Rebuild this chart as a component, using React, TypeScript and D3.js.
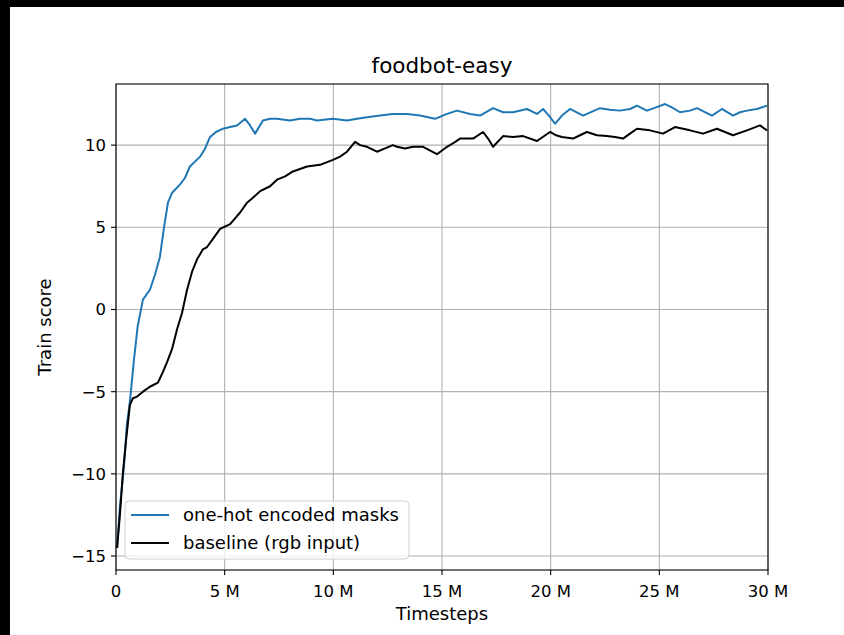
import React from "react";
import * as d3 from "d3";

// timesteps in millions, train score
const maskSteps = [0.05, 0.18, 0.37, 0.5, 0.64, 0.83, 1.0, 1.24, 1.56, 1.79, 2.02, 2.21, 2.39, 2.58, 2.94, 3.17, 3.4, 3.87, 4.1, 4.33, 4.6, 4.92, 5.25, 5.57, 5.94, 6.17, 6.4, 6.76, 7.09, 7.41, 8.0, 8.47, 8.93, 9.25, 9.98, 10.63, 11.09, 11.55, 12.15, 12.74, 13.39, 13.99, 14.68, 15.23, 15.69, 16.29, 16.75, 17.35, 17.81, 18.27, 18.91, 19.37, 19.65, 19.92, 20.2, 20.52, 20.89, 21.49, 22.27, 22.73, 23.19, 23.65, 23.97, 24.43, 24.85, 25.26, 25.58, 25.95, 26.41, 26.73, 27.42, 27.88, 28.39, 28.71, 29.03, 29.49, 29.95];
const maskScore = [-14.5, -12, -9.5, -7, -5.6, -3, -1, 0.6, 1.2, 2.1, 3.2, 5, 6.5, 7.1, 7.6, 8.0, 8.7, 9.3, 9.8, 10.5, 10.8, 11.0, 11.1, 11.2, 11.6, 11.2, 10.7, 11.5, 11.6, 11.6, 11.5, 11.6, 11.6, 11.5, 11.6, 11.5, 11.6, 11.7, 11.8, 11.9, 11.9, 11.8, 11.6, 11.9, 12.1, 11.9, 11.8, 12.25, 12.0, 12.0, 12.2, 11.9, 12.2, 11.8, 11.3, 11.8, 12.2, 11.8, 12.25, 12.15, 12.1, 12.2, 12.4, 12.1, 12.3, 12.5, 12.3, 12.0, 12.1, 12.25, 11.8, 12.2, 11.8, 12.0, 12.1, 12.2, 12.4];

const baseSteps = [0.05, 0.18, 0.32, 0.46, 0.64, 0.78, 0.97, 1.24, 1.56, 1.93, 2.16, 2.35, 2.58, 2.81, 3.04, 3.27, 3.5, 3.73, 4.0, 4.19, 4.46, 4.79, 5.25, 5.71, 6.03, 6.3, 6.63, 7.09, 7.41, 7.78, 8.14, 8.79, 9.39, 9.98, 10.31, 10.63, 11.0, 11.23, 11.55, 12.01, 12.38, 12.74, 12.93, 13.3, 13.67, 14.13, 14.77, 15.23, 15.5, 15.83, 16.43, 16.89, 17.12, 17.35, 17.81, 18.27, 18.73, 19.37, 19.97, 20.25, 20.52, 21.03, 21.35, 21.67, 22.13, 22.59, 22.96, 23.33, 23.65, 23.97, 24.57, 25.17, 25.72, 26.41, 27.01, 27.65, 28.02, 28.39, 29.03, 29.63, 29.95];
const baseScore = [-14.5, -12.5, -9.9, -8, -5.8, -5.4, -5.3, -5.0, -4.7, -4.45, -3.8, -3.2, -2.4, -1.2, -0.2, 1.2, 2.3, 3.05, 3.66, 3.8, 4.3, 4.9, 5.2, 5.9, 6.5, 6.8, 7.2, 7.5, 7.9, 8.1, 8.4, 8.7, 8.8, 9.1, 9.3, 9.6, 10.2, 10.0, 9.9, 9.6, 9.8, 10.0, 9.9, 9.8, 9.9, 9.9, 9.45, 9.9, 10.1, 10.4, 10.4, 10.8, 10.4, 9.9, 10.55, 10.5, 10.55, 10.25, 10.8, 10.6, 10.5, 10.4, 10.6, 10.8, 10.6, 10.55, 10.5, 10.4, 10.7, 11.0, 10.9, 10.7, 11.1, 10.9, 10.7, 11.0, 10.8, 10.6, 10.9, 11.2, 10.9];

const xTicks = [0, 5, 10, 15, 20, 25, 30];
const xTickLabels = ["0", "5 M", "10 M", "15 M", "20 M", "25 M", "30 M"];
const yTicks = [-15, -10, -5, 0, 5, 10];
const yTickLabels = ["\u221215", "\u221210", "\u22125", "0", "5", "10"];

const W = 844;
const H = 635;
const left = 116, right = 768, top = 84, bottom = 570;
const font = "DejaVu Sans, sans-serif";

export default function App() {
  const x = d3.scaleLinear().domain([0, 30]).range([left, right]);
  const y = d3.scaleLinear().domain([-15.85, 13.72]).range([bottom, top]);

  const line = d3
    .line<[number, number]>()
    .x((d) => x(d[0]))
    .y((d) => y(d[1]));

  const maskPts = maskSteps.map((s, i) => [s, maskScore[i]] as [number, number]);
  const basePts = baseSteps.map((s, i) => [s, baseScore[i]] as [number, number]);

  return (
    <svg width={W} height={H} style={{ position: "absolute", left: 0, top: 0, background: "#fff" }}>
      <rect x={0} y={0} width={W} height={7} fill="#000" />
      <rect x={0} y={0} width={10} height={H} fill="#000" />

      <defs>
        <clipPath id="plot">
          <rect x={left} y={top} width={right - left} height={bottom - top} />
        </clipPath>
      </defs>

      {/* grid */}
      {xTicks.map((t) => (
        <line key={"gx" + t} x1={x(t)} x2={x(t)} y1={top} y2={bottom} stroke="#b0b0b0" strokeWidth={1.1} />
      ))}
      {yTicks.map((t) => (
        <line key={"gy" + t} x1={left} x2={right} y1={y(t)} y2={y(t)} stroke="#b0b0b0" strokeWidth={1.1} />
      ))}

      <g clipPath="url(#plot)">
        <path d={line(maskPts) || ""} fill="none" stroke="#1f77b4" strokeWidth={2} strokeLinejoin="round" />
        <path d={line(basePts) || ""} fill="none" stroke="#000" strokeWidth={2} strokeLinejoin="round" />
      </g>

      {/* spines */}
      <rect x={left} y={top} width={right - left} height={bottom - top} fill="none" stroke="#000" strokeWidth={1.1} />

      {/* ticks */}
      {xTicks.map((t, i) => (
        <g key={"tx" + t}>
          <line x1={x(t)} x2={x(t)} y1={bottom} y2={bottom + 5} stroke="#000" strokeWidth={1.1} />
          <text x={x(t)} y={bottom + 27} textAnchor="middle" fontFamily={font} fontSize={16.5} fill="#000">
            {xTickLabels[i]}
          </text>
        </g>
      ))}
      {yTicks.map((t, i) => (
        <g key={"ty" + t}>
          <line x1={left - 5} x2={left} y1={y(t)} y2={y(t)} stroke="#000" strokeWidth={1.1} />
          <text x={left - 10} y={y(t) + 6} textAnchor="end" fontFamily={font} fontSize={16.5} fill="#000">
            {yTickLabels[i]}
          </text>
        </g>
      ))}

      {/* labels */}
      <text x={(left + right) / 2} y={73} textAnchor="middle" fontFamily={font} fontSize={21.5} fill="#000">
        foodbot-easy
      </text>
      <text x={(left + right) / 2} y={620} textAnchor="middle" fontFamily={font} fontSize={18} fill="#000">
        Timesteps
      </text>
      <text
        transform={`translate(51,${(top + bottom) / 2}) rotate(-90)`}
        textAnchor="middle"
        fontFamily={font}
        fontSize={18}
        fill="#000"
      >
        Train score
      </text>

      {/* legend */}
      <rect x={125} y={501} width={284} height={58} rx={4} fill="#fff" fillOpacity={0.8} stroke="#d0d0d0" strokeWidth={1} />
      <line x1={131} x2={169} y1={515} y2={515} stroke="#1f77b4" strokeWidth={2} />
      <text x={183} y={521} fontFamily={font} fontSize={18} fill="#000">one-hot encoded masks</text>
      <line x1={131} x2={169} y1={543} y2={543} stroke="#000" strokeWidth={2} />
      <text x={183} y={549} fontFamily={font} fontSize={18} fill="#000">baseline (rgb input)</text>
    </svg>
  );
}
